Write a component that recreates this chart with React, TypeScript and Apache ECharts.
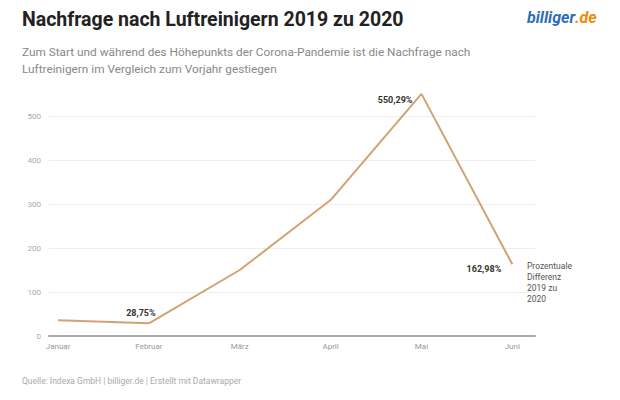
import React, { useEffect, useRef } from "react";
import * as echarts from "echarts";

const months = ["Januar", "Februar", "März", "April", "Mai", "Juni"];
const values = [36, 28.75, 150, 309, 550.29, 162.98];
const pointLabels = ["", "28,75%", "", "", "550,29%", "162,98%"];
const yTicks = [0, 100, 200, 300, 400, 500];

const titleText = "Nachfrage nach Luftreinigern 2019 zu 2020";
const subtitleLines = [
  "Zum Start und während des Höhepunkts der Corona-Pandemie ist die Nachfrage nach",
  "Luftreinigern im Vergleich zum Vorjahr gestiegen",
];
const noteLines = ["Prozentuale", "Differenz", "2019 zu", "2020"];
const sourceText = "Quelle: Indexa GmbH | billiger.de | Erstellt mit Datawrapper";

const FONT = "Roboto, 'Noto Sans', sans-serif";

export default function App() {
  const ref = useRef<HTMLDivElement>(null);
  useEffect(() => {
    if (!ref.current) return;
    const chart = echarts.init(ref.current, undefined, { renderer: "svg" });
    const labelCfg = [
      null,
      { position: "top", offset: [-8, -1] },
      null,
      null,
      { position: "left", offset: [-4, 6] },
      { position: "left", offset: [-6, 5] },
    ];
    const data = values.map((v, i) => {
      const item: any = { value: [i, v] };
      if (pointLabels[i]) {
        item.label = {
          show: true,
          formatter: pointLabels[i],
          ...labelCfg[i],
          color: "#333",
          fontWeight: "bold",
          fontSize: 9,
          fontFamily: FONT,
        };
      }
      return item;
    });
    chart.setOption({
      animation: false,
      backgroundColor: "#fff",
      grid: { left: 49, right: 85, top: 116, bottom: 64 },
      xAxis: {
        type: "value",
        min: -0.1,
        max: 5.25,
        axisLine: { show: true, lineStyle: { color: "#aaa", width: 2 } },
        axisTick: { show: false },
        splitLine: { show: false },
        axisLabel: {
          customValues: months.map((_, i) => i),
          formatter: (v: number) => months[Math.round(v)] ?? "",
          color: "#999",
          fontSize: 8,
          fontFamily: FONT,
          margin: 6,
        },
      },
      yAxis: {
        type: "value",
        min: 0,
        max: 500,
        interval: 100,
        axisLine: { show: false },
        axisTick: { show: false },
        axisLabel: {
          color: "#aaa",
          fontSize: 8,
          fontFamily: FONT,
          margin: 8,
          formatter: (v: number) => (yTicks.includes(v) ? String(v) : ""),
        },
        splitLine: { lineStyle: { color: "#eee", width: 1 } },
      },
      series: [
        {
          type: "line",
          data,
          clip: false,
          symbol: "circle",
          symbolSize: 0,
          showSymbol: true,
          itemStyle: { color: "#d8a46c" },
          lineStyle: { color: "#d2a272", width: 2 },
        },
      ],
      graphic: [
        {
          type: "text",
          left: 22,
          top: 9,
          style: { text: titleText, fontSize: 19.5, fontWeight: "bold", fill: "#222", fontFamily: FONT },
        },
        {
          type: "text",
          left: 22,
          top: 43,
          style: {
            text: subtitleLines.join("\n"),
            fontSize: 11.8,
            lineHeight: 17,
            fill: "#888",
            fontFamily: FONT,
          },
        },
        {
          type: "text",
          left: 527,
          top: 9,
          style: {
            text: "{b|billiger}{o|.de}",
            rich: {
              b: { fontSize: 16, fontWeight: "bold", fontStyle: "italic", fill: "#2f6db5", fontFamily: FONT },
              o: { fontSize: 16, fontWeight: "bold", fontStyle: "italic", fill: "#f0880a", fontFamily: FONT },
            },
          },
        },
        {
          type: "text",
          left: 527,
          top: 260,
          style: {
            text: noteLines.join("\n"),
            fontSize: 8.5,
            lineHeight: 11,
            fill: "#555",
            fontFamily: FONT,
          },
        },
        {
          type: "text",
          left: 22,
          top: 376,
          style: { text: sourceText, fontSize: 8.5, fill: "#aaa", fontFamily: FONT },
        },
      ],
    });
    return () => chart.dispose();
  }, []);
  return <div ref={ref} style={{ width: 620, height: 400, margin: -8 }} />;
}
